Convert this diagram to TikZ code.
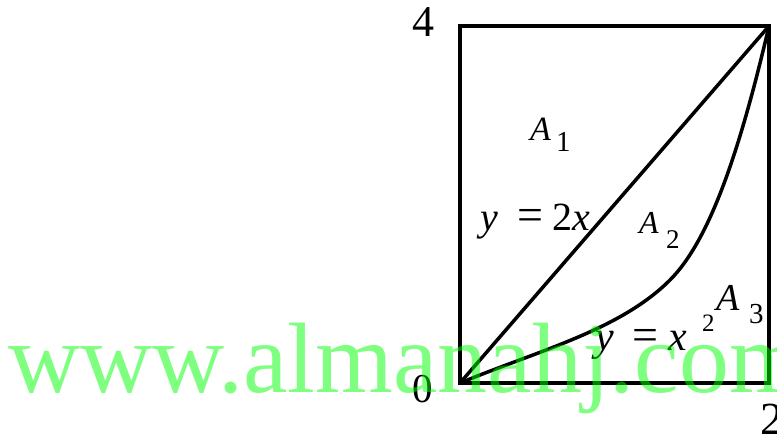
\documentclass[tikz,border=0pt]{standalone}
\usepackage{fontspec}
\setmainfont{Liberation Serif}
\newcommand\fsz[1]{\fontsize{#1}{#1}\selectfont}
\tikzset{
  lbl/.style={inner sep=0pt, anchor=base west, text=black},
  frame/.style={line width=4pt, line join=miter},
  graphline/.style={line width=3.5pt, line cap=round, line join=round},
  wmark/.style={inner sep=0pt, anchor=base west, text=green, text opacity=0.5}
}
\begin{document}
\begin{tikzpicture}[x=1pt,y=-1pt]
\useasboundingbox (0,0) rectangle (777,437);
\fill[white] (0,0) rectangle (777,437);
\coordinate (O) at (460,383);
\coordinate (T) at (769,26);
\coordinate (M) at (670,280);
\draw[frame] (O) rectangle (T);
\draw[graphline] (O) -- (T);
\draw[graphline] (O) .. controls (540,350) and (620,330) .. (M) .. controls (710,240) and (740,150) .. (T);
% axis labels
\node[lbl] (l4) at (412,36) {\fsz{44}4};
\node[lbl] (l0) at (412,402) {\fsz{41}0};
\node[lbl] (l2) at (760,434) {\fsz{46}2};
% A1
\node[lbl] (a1) at (530,140) {\fsz{34}\itshape A};
\node[lbl] (a1s) at (556,151) {\fsz{29}1};
% y = 2x
\node[lbl] (yl) at (480,230) {\fsz{40}\itshape y};
\node[lbl] (eq1) at (517,230) {\fsz{46}=};
\node[lbl] (two) at (552,230) {\fsz{40}2\itshape x};
% A2
\node[lbl] (a2) at (639,233) {\fsz{32}\itshape A};
\node[lbl] (a2s) at (666,248) {\fsz{27}2};
% y = x^2
\node[lbl] (yq) at (595,350) {\fsz{42}\itshape y};
\node[lbl] (eq2) at (632,350) {\fsz{46}=};
\node[lbl] (xq) at (668,350) {\fsz{42}\itshape x};
\node[lbl] (sq) at (702,331) {\fsz{25}2};
% A3
\node[lbl] (a3) at (716,310) {\fsz{38}\itshape A};
\node[lbl] (a3s) at (749,323) {\fsz{29}3};
% watermark
\node[wmark] (wm) at (8,392) {\fsz{100}www.almanahj.com};
\end{tikzpicture}
\end{document}
